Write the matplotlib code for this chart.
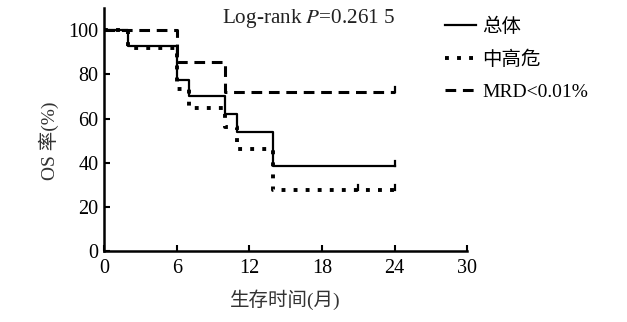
import matplotlib
matplotlib.use("Agg")
import matplotlib.pyplot as plt
from matplotlib.lines import Line2D

plt.rcParams['font.family'] = ['Liberation Serif', 'Noto Sans CJK SC']
plt.rcParams['mathtext.fontset'] = 'stix'

# Kaplan-Meier step curves (time in months, survival in %)
overall_t = [0, 2, 6, 7, 10, 11, 14, 24]
overall_s = [100, 93, 77.5, 70, 62, 54, 38.5, 38.5]

highrisk_t = [0, 2, 6, 7, 10, 11, 14, 24]
highrisk_s = [100, 92, 73.5, 65, 56, 46, 27.5, 27.5]

mrd_t = [0, 6, 10, 24]
mrd_s = [100, 85.5, 72, 72]

# censoring marks
overall_cens_t = [24]
overall_cens_s = [38.5]
highrisk_cens_t = [21, 24]
highrisk_cens_s = [27.5, 27.5]
mrd_cens_t = [24]
mrd_cens_s = [72]

labels = ['总体', '中高危', 'MRD<0.01%']
x_ticks = [0, 6, 12, 18, 24, 30]
y_ticks = [0, 20, 40, 60, 80, 100]

dot_style = (0, (1.0, 2.1))
dash_style = (0, (3.5, 2.2))

fig = plt.figure(figsize=(6.27, 3.22), dpi=100)
ax = fig.add_axes([0.166, 0.22, 0.579, 0.755])

ax.step(overall_t, overall_s, where='post', color='black', lw=1.6)
ax.step(highrisk_t, highrisk_s, where='post', color='black', lw=2.8,
        linestyle=dot_style)
ax.step(mrd_t, mrd_s, where='post', color='black', lw=2.2,
        linestyle=dash_style)

for t, s in zip(overall_cens_t + highrisk_cens_t + mrd_cens_t,
                overall_cens_s + highrisk_cens_s + mrd_cens_s):
    ax.plot([t, t], [s, s + 2.5], color='black', lw=1.6)

ax.set_xlim(0, 30)
ax.set_ylim(0, 110)
ax.set_xticks(x_ticks)
ax.set_yticks(y_ticks)
ax.tick_params(direction='in', length=4, width=1.5, labelsize=14.5)
ax.tick_params(axis='x', pad=6)
ax.tick_params(axis='y', pad=4)
for side in ['top', 'right']:
    ax.spines[side].set_visible(False)
for side in ['left', 'bottom']:
    ax.spines[side].set_linewidth(1.8)

ax.set_xlabel('生存时间(月)', fontsize=14, color='#333333', labelpad=8)
ax.set_ylabel('OS 率(%)', fontsize=14, color='#333333')
ax.yaxis.set_label_coords(-0.125, 0.455)

ax.text(0.325, 0.955, 'Log-rank $\\mathit{P}$=0.261 5', transform=ax.transAxes,
        fontsize=15.2, ha='left', va='center', color='#222222')

handles = [
    Line2D([], [], color='black', lw=1.6),
    Line2D([], [], color='black', lw=2.8, linestyle=dot_style),
    Line2D([], [], color='black', lw=2.2, linestyle=dash_style),
]
fig.legend(handles, labels, loc='upper left', bbox_to_anchor=(0.682, 1.0),
           frameon=False, fontsize=14, handlelength=1.6, handletextpad=0.3,
           labelspacing=0.75)

fig.savefig('out.png', dpi=100)
